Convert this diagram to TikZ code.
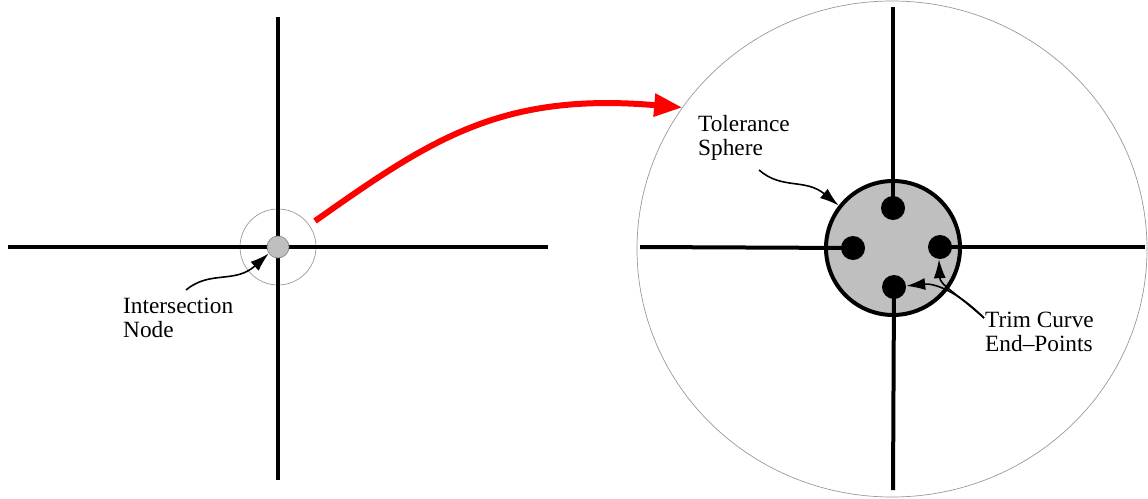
\documentclass[tikz,border=0pt]{standalone}
\usepackage{fontspec}
\setmainfont{Liberation Serif}
\usetikzlibrary{arrows.meta,shapes.geometric}
\begin{document}
\begin{tikzpicture}[x=1pt,y=-1pt,
  axis/.style={line width=4pt, black},
  ring/.style={draw=gray!80, line width=0.7pt},
  enddot/.style={circle, fill=black, minimum size=24pt, inner sep=0pt},
  label/.style={align=left, anchor=west, inner sep=0pt, font=\fontsize{23.3}{24.5}\selectfont},
  ptr/.style={line width=1.6pt, -{Latex[length=19pt,width=12pt]}},
]
\useasboundingbox (0,0) rectangle (1148,498);
% ---------- left picture ----------
\node[ring, circle, minimum size=76pt, inner sep=0pt] (lring) at (278,247) {};
\coordinate (lL) at (8,247);
\coordinate (lR) at (548,247);
\coordinate (lT) at (278,17);
\coordinate (lB) at (278,480);
\draw[axis] (lL) -- (lR);
\draw[axis] (lT) -- (lB);
\node[circle, fill=gray!50, draw=gray, line width=0.6pt, minimum size=22pt, inner sep=0pt] (ldot) at (278,247) {};
\node[label] (inode) at (123,318) {Intersection\\Node};
\coordinate (is) at (186,290);
\draw[ptr] (is) .. controls (210,270) and (235,284) .. (ldot.-145);
% ---------- right picture ----------
\node[ring, ellipse, minimum width=510pt, minimum height=496pt, inner sep=0pt] (big) at (892,249) {};
\node[circle, fill=gray!50, draw=black, line width=4pt, minimum size=134pt, inner sep=0pt] (sphere) at (893,248) {};
\node[enddot] (dT) at (893,208) {};
\node[enddot] (dL) at (853,248) {};
\node[enddot] (dR) at (940,247) {};
\node[enddot] (dB) at (894,287) {};
\coordinate (rL) at (640,247);
\coordinate (rR) at (1145,247);
\coordinate (rT) at (893,7);
\coordinate (rB) at (893,490);
\draw[axis] (rL) -- (dL.center);
\draw[axis] (dR.center) -- (rR);
\draw[axis] (rT) -- (dT.center);
\draw[axis] (dB.center) -- (rB);
% red arrow
\coordinate (rs) at (315,221);
\draw[red, line width=6pt, -{Triangle[length=28pt,width=22pt]}] (rs) .. controls (430,140) and (500,92) .. (big.146);
% labels
\node[label] (tol) at (698,138) {Tolerance\\Sphere};
\coordinate (ts) at (759,170);
\draw[ptr] (ts) .. controls (782,190) and (805,178) .. (sphere.142);
\node[label] (trim) at (985,332) {Trim Curve\\End--Points};
\coordinate (tr) at (984,318);
\draw[ptr] (tr) .. controls (955,292) and (940,285) .. (dR.-95);
\draw[ptr] (tr) .. controls (958,292) and (935,283) .. (dB.5);
\end{tikzpicture}
\end{document}
